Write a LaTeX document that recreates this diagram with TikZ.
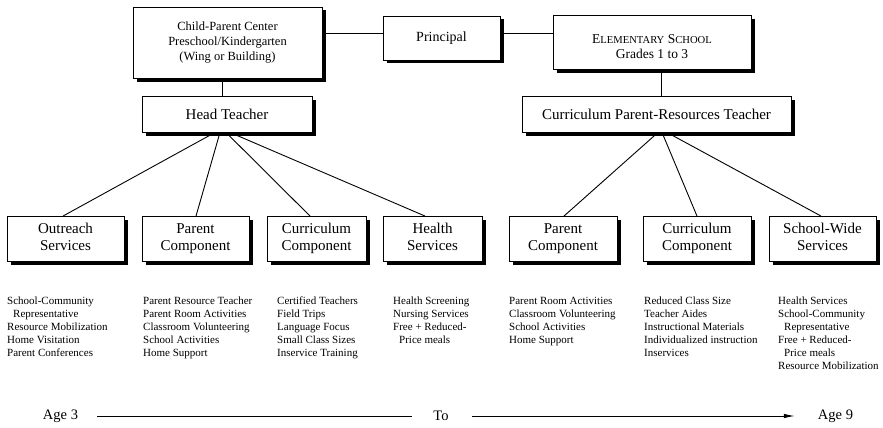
\documentclass[tikz,border=0pt]{standalone}
\usepackage{fontspec}
\setmainfont{Liberation Serif}
\usetikzlibrary{shadows,arrows.meta}
\newcommand{\bxstrut}{\rule[-3.5pt]{0pt}{17pt}}
\newcommand{\twolines}[2]{\rule[-3.5pt]{0pt}{13.5pt}#1\\\rule[-3.5pt]{0pt}{13.5pt}#2}
\tikzset{
  box/.style={draw, line width=0.9pt, fill=white, inner sep=0pt, align=center,
    drop shadow={shadow xshift=3.5pt, shadow yshift=-3.5pt, fill=black, opacity=1}},
  bigtxt/.style={font=\fontsize{15}{17}\selectfont},
  listtxt/.style={inner sep=0pt, anchor=north west, align=left, font=\fontsize{11}{13}\selectfont},
  agetxt/.style={inner sep=0pt, font=\fontsize{14.5}{17}\selectfont},
  conn/.style={line width=0.9pt}
}
\begin{document}
\begin{tikzpicture}[x=1pt,y=-1pt]
\useasboundingbox (0,0) rectangle (883,428);
% top row
\node[box, minimum width=189pt, minimum height=71pt, font=\fontsize{12.5}{15}\selectfont] (cpc) at (227.5,42.5)
  {Child-Parent Center\\Preschool/Kindergarten\\(Wing or Building)};
\node[box, minimum width=117pt, minimum height=44pt, font=\fontsize{14}{17}\selectfont] (pr) at (441.5,38) {Principal};
\node[box, minimum width=198pt, minimum height=54pt, font=\fontsize{13.5}{15}\selectfont] (es) at (652,42.5)
  {\rule{0pt}{17pt}E{\fontsize{10.6}{15}\selectfont LEMENTARY} S{\fontsize{10.6}{15}\selectfont CHOOL}\\Grades 1 to 3};
% second row
\node[box, bigtxt, minimum width=170pt, minimum height=36pt] (head) at (227,114) {Head Teacher};
\node[box, bigtxt, minimum width=269pt, minimum height=36pt] (cprt) at (656.5,114) {Curriculum Parent-Resources Teacher};
% bottom row
\node[box, bigtxt, minimum width=117pt, minimum height=45pt] (out) at (65.5,239) {\twolines{Outreach}{Services}};
\node[box, bigtxt, minimum width=107pt, minimum height=45pt] (par) at (195.5,239) {\twolines{Parent}{Component}};
\node[box, bigtxt, minimum width=99pt, minimum height=45pt] (cur) at (316.5,239) {\twolines{Curriculum}{Component}};
\node[box, bigtxt, minimum width=99pt, minimum height=45pt] (hea) at (432.5,239) {\twolines{Health}{Services}};
\node[box, bigtxt, minimum width=108pt, minimum height=45pt] (par2) at (563,239) {\twolines{Parent}{Component}};
\node[box, bigtxt, minimum width=108pt, minimum height=45pt] (cur2) at (697,239) {\twolines{Curriculum}{Component}};
\node[box, bigtxt, minimum width=107pt, minimum height=45pt] (sw) at (822.5,239) {\twolines{School-Wide}{Services}};
% connectors
\draw[conn] (cpc.east |- 0,33) -- (pr.west |- 0,33);
\draw[conn] (pr.east |- 0,33) -- (es.west |- 0,33);
\draw[conn] (cpc.south -| 222,0) -- (head.north -| 222,0);
\draw[conn] (es.south -| 661,0) -- (cprt.north -| 661,0);
\draw[conn] (head.south -| 215,0) -- (out.north -| 63,0);
\draw[conn] (head.south -| 220,0) -- (par.north -| 196,0);
\draw[conn] (head.south -| 226,0) -- (cur.north -| 310,0);
\draw[conn] (head.south -| 230,0) -- (hea.north -| 425,0);
\draw[conn] (cprt.south -| 658,0) -- (par2.north -| 564,0);
\draw[conn] (cprt.south -| 662,0) -- (cur2.north -| 697,0);
\draw[conn] (cprt.south -| 667,0) -- (sw.north -| 821,0);
% lists
\node[listtxt] (l1) at (7,297) {School-Community\\\hspace*{6pt}Representative\\Resource Mobilization\\Home Visitation\\Parent Conferences};
\node[listtxt] (l2) at (143,297) {Parent Resource Teacher\\Parent Room Activities\\Classroom Volunteering\\School Activities\\Home Support};
\node[listtxt] (l3) at (277,297) {Certified Teachers\\Field Trips\\Language Focus\\Small Class Sizes\\Inservice Training};
\node[listtxt] (l4) at (393,297) {Health Screening\\Nursing Services\\Free + Reduced-\\\hspace*{6pt}Price meals};
\node[listtxt] (l5) at (509,297) {Parent Room Activities\\Classroom Volunteering\\School Activities\\Home Support};
\node[listtxt] (l6) at (644,297) {Reduced Class Size\\Teacher Aides\\Instructional Materials\\Individualized instruction\\Inservices};
\node[listtxt] (l7) at (778,297) {Health Services\\School-Community\\\hspace*{6pt}Representative\\Free + Reduced-\\\hspace*{6pt}Price meals\\Resource Mobilization};
% age line
\node[agetxt] (a3) at (60.5,416) {Age 3};
\node[agetxt] (to) at (441,416) {To};
\node[agetxt] (a9) at (835.5,416) {Age 9};
\draw[conn] ([xshift=19pt]a3.east) -- ([xshift=-21pt]to.west);
\draw[conn, -{Latex[length=11pt,width=4.5pt]}] ([xshift=23pt]to.east) -- ([xshift=-23pt]a9.west);
\end{tikzpicture}
\end{document}
